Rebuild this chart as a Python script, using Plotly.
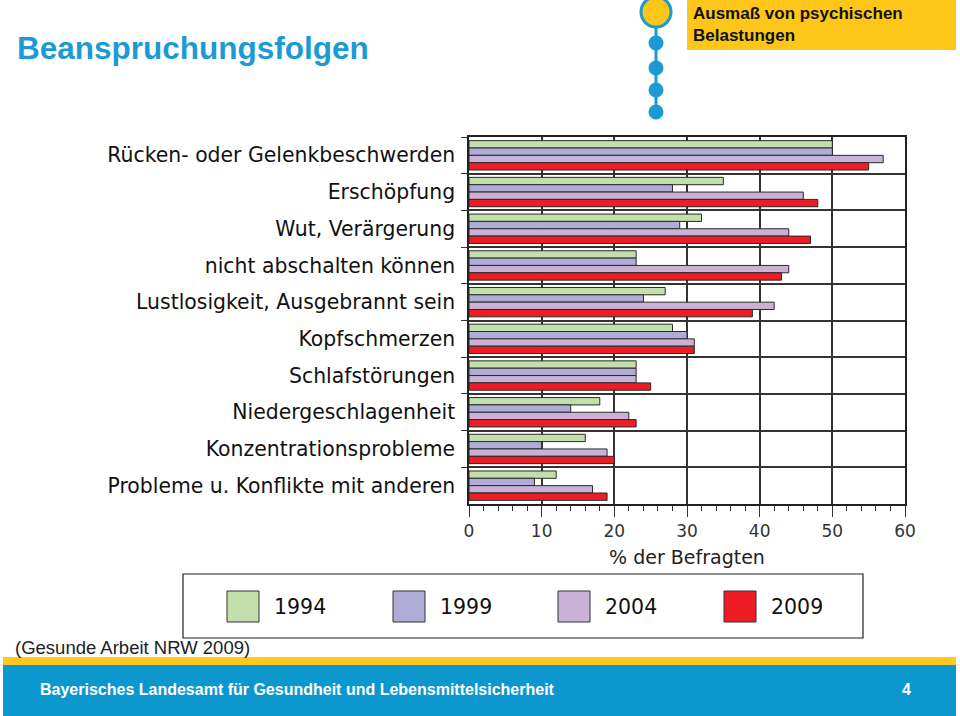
import plotly.graph_objects as go

categories = [
    "Rücken- oder Gelenkbeschwerden",
    "Erschöpfung",
    "Wut, Verärgerung",
    "nicht abschalten können",
    "Lustlosigkeit, Ausgebrannt sein",
    "Kopfschmerzen",
    "Schlafstörungen",
    "Niedergeschlagenheit",
    "Konzentrationsprobleme",
    "Probleme u. Konflikte mit anderen",
]
years = ["1994", "1999", "2004", "2009"]
v1994 = [50, 35, 32, 23, 27, 28, 23, 18, 16, 12]
v1999 = [50, 28, 29, 23, 24, 30, 23, 14, 10, 9]
v2004 = [57, 46, 44, 44, 42, 31, 23, 22, 19, 17]
v2009 = [55, 48, 47, 43, 39, 31, 25, 23, 20, 19]
series = [v1994, v1999, v2004, v2009]
colors = ["#C3DFAC", "#AFADD8", "#C9B2D6", "#EE1C25"]

W, H = 960, 716
L, R, T, B = 469, 55, 137, 212
PW = W - L - R
PH = H - T - B


def px(x):
    return (x - L) / PW


def py(y):
    return (H - B - y) / PH


fig = go.Figure()
for name, vals, col in zip(years, series, colors):
    fig.add_trace(go.Bar(
        y=categories, x=vals, name=name, orientation="h",
        marker=dict(color=col, line=dict(color="#2a2a2a", width=1)),
    ))

shapes = []
annotations = []

# footer bands
shapes.append(dict(type="rect", xref="paper", yref="paper", x0=px(3), x1=px(956),
                   y0=py(665), y1=py(657), fillcolor="#FFC81E", line=dict(width=0), layer="below"))
shapes.append(dict(type="rect", xref="paper", yref="paper", x0=px(3), x1=px(956),
                   y0=py(716), y1=py(665), fillcolor="#0C98CE", line=dict(width=0), layer="below"))
# header yellow box
shapes.append(dict(type="rect", xref="paper", yref="paper", x0=px(687), x1=px(956),
                   y0=py(50), y1=py(0), fillcolor="#FFC61A", line=dict(width=0), layer="below"))
# timeline
blue = "#1B9AD4"
shapes.append(dict(type="line", xref="paper", yref="paper", x0=px(656), x1=px(656),
                   y0=py(112), y1=py(20), line=dict(color=blue, width=3)))
shapes.append(dict(type="circle", xref="paper", yref="paper", x0=px(641), x1=px(671),
                   y0=py(27), y1=py(-3), fillcolor="#FFC61A", line=dict(color=blue, width=3)))
for cy in [43, 68, 90, 112]:
    shapes.append(dict(type="circle", xref="paper", yref="paper", x0=px(648.5), x1=px(663.5),
                       y0=py(cy + 7.5), y1=py(cy - 7.5), fillcolor=blue, line=dict(width=0)))
# legend box
shapes.append(dict(type="rect", xref="paper", yref="paper", x0=px(183), x1=px(863),
                   y0=py(638), y1=py(574), fillcolor="white", line=dict(color="#222", width=1.2)))
leg_x = [227, 393, 558, 724]
for lx, col, name in zip(leg_x, colors, years):
    shapes.append(dict(type="rect", xref="paper", yref="paper", x0=px(lx), x1=px(lx + 32),
                       y0=py(622), y1=py(591), fillcolor=col, line=dict(color="#333", width=1)))
    annotations.append(dict(text=name, xref="paper", yref="paper", x=px(lx + 45), y=py(607),
                            xanchor="left", yanchor="middle", showarrow=False,
                            font=dict(family="DejaVu Sans", size=20.5, color="#111")))

annotations.append(dict(text="<b>Beanspruchungsfolgen</b>", xref="paper", yref="paper",
                        x=px(15), y=py(48), xanchor="left", yanchor="middle", showarrow=False,
                        font=dict(family="Liberation Sans, Arial", size=31.5, color="#1B9AD6")))
annotations.append(dict(text="<b>Ausmaß von psychischen<br>Belastungen</b>", xref="paper", yref="paper",
                        x=px(691), y=py(24), xanchor="left", yanchor="middle", align="left",
                        showarrow=False,
                        font=dict(family="Liberation Sans, Arial", size=17, color="#111")))
annotations.append(dict(text="(Gesunde Arbeit NRW 2009)", xref="paper", yref="paper",
                        x=px(13), y=py(647), xanchor="left", yanchor="middle", showarrow=False,
                        font=dict(family="Liberation Sans, Arial", size=18.5, color="#222")))
annotations.append(dict(text="<b>Bayerisches Landesamt für Gesundheit und Lebensmittelsicherheit</b>",
                        xref="paper", yref="paper", x=px(38), y=py(689), xanchor="left",
                        yanchor="middle", showarrow=False,
                        font=dict(family="Liberation Sans, Arial", size=16, color="white")))
annotations.append(dict(text="<b>4</b>", xref="paper", yref="paper", x=px(906), y=py(689),
                        xanchor="center", yanchor="middle", showarrow=False,
                        font=dict(family="Liberation Sans, Arial", size=16, color="white")))

fig.update_layout(
    width=W, height=H,
    margin=dict(l=L, r=R, t=T, b=B, pad=0),
    paper_bgcolor="white", plot_bgcolor="white",
    barmode="group", bargap=0.2, bargroupgap=0,
    showlegend=False,
    shapes=shapes, annotations=annotations,
    xaxis=dict(
        range=[0, 60], dtick=10, tick0=0,
        ticks="outside", ticklen=11, tickcolor="#333", tickwidth=1.2,
        minor=dict(dtick=2, ticks="outside", ticklen=5, tickcolor="#333", showgrid=False),
        showgrid=True, gridcolor="#333", gridwidth=1.5,
        showline=True, linecolor="#222", linewidth=1.5, mirror=True,
        zeroline=False,
        tickfont=dict(family="DejaVu Sans", size=17, color="#333"),
        title=dict(text="% der Befragten", standoff=11,
                   font=dict(family="DejaVu Sans", size=19, color="#222")),
    ),
    yaxis=dict(
        type="category", categoryorder="array", categoryarray=categories,
        autorange="reversed", tickson="boundaries",
        ticks="outside", ticklen=6, tickcolor="#333",
        showgrid=True, gridcolor="#333", gridwidth=1.5,
        showline=True, linecolor="#222", linewidth=1.5, mirror=True,
        tickfont=dict(family="DejaVu Sans", size=20.4, color="#111"),
        ticklabelstandoff=8,
    ),
)

fig.write_html(
    "out.html",
    config={"displayModeBar": False},
    post_script="document.body.style.margin='0';document.body.style.padding='0';"
                "document.body.style.overflow='hidden';",
)
